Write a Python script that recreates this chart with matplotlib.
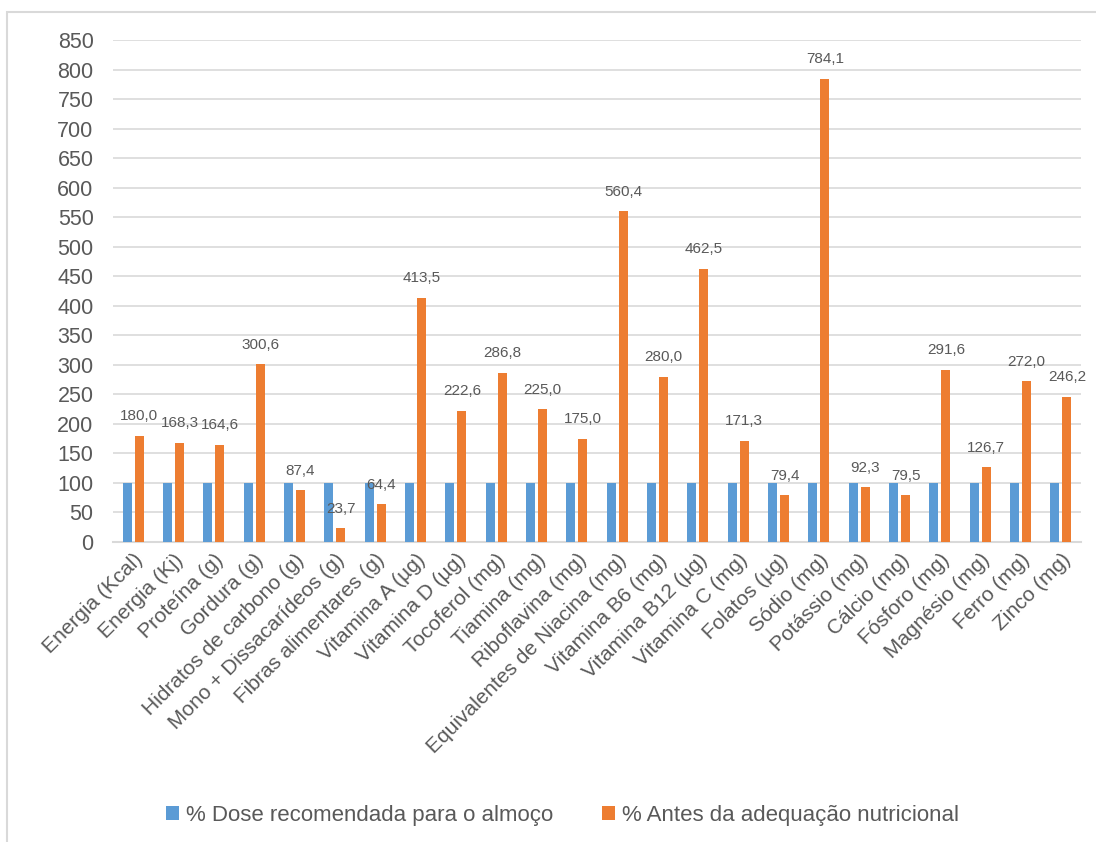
import matplotlib.pyplot as plt
from matplotlib.patches import Rectangle
import numpy as np

plt.rcParams["font.family"] = ["Liberation Sans", "DejaVu Sans"]

CATEGORIES = [
    "Energia (Kcal)", "Energia (Kj)", "Proteína (g)", "Gordura (g)",
    "Hidratos de carbono (g)", "Mono + Dissacarídeos (g)",
    "Fibras alimentares (g)", "Vitamina A (µg)", "Vitamina D (µg)",
    "Tocoferol (mg)", "Tiamina (mg)", "Riboflavina (mg)",
    "Equivalentes de Niacina (mg)", "Vitamina B6 (mg)", "Vitamina B12 (µg)",
    "Vitamina C (mg)", "Folatos (µg)", "Sódio (mg)", "Potássio (mg)",
    "Cálcio (mg)", "Fósforo (mg)", "Magnésio (mg)", "Ferro (mg)",
    "Zinco (mg)",
]
DOSE_RECOMENDADA = [100] * 24
ANTES_ADEQUACAO = [
    180.0, 168.3, 164.6, 300.6, 87.4, 23.7, 64.4, 413.5, 222.6, 286.8,
    225.0, 175.0, 560.4, 280.0, 462.5, 171.3, 79.4, 784.1, 92.3, 79.5,
    291.6, 126.7, 272.0, 246.2,
]
SERIES_NAMES = ["% Dose recomendada para o almoço",
                "% Antes da adequação nutricional"]
Y_TICKS = list(range(0, 851, 50))

BLUE = "#5B9BD5"
ORANGE = "#ED7D31"
GRID = "#D9D9D9"
TEXT = "#595959"

fig = plt.figure(figsize=(10.96, 8.42), dpi=100)
ax = fig.add_axes([0.1031, 0.3563, 0.8832, 0.5962])

x = np.arange(len(CATEGORIES))
w = 0.22
ax.bar(x - 0.15, DOSE_RECOMENDADA, w, color=BLUE, label=SERIES_NAMES[0], zorder=3)
bars = ax.bar(x + 0.15, ANTES_ADEQUACAO, w, color=ORANGE, label=SERIES_NAMES[1], zorder=3)

for rect, v in zip(bars, ANTES_ADEQUACAO):
    ax.annotate(f"{v:.1f}".replace(".", ","),
                (rect.get_x() + rect.get_width() / 2, v),
                xytext=(0, 14), textcoords="offset points",
                ha="center", va="center", fontsize=11, color=TEXT)

ax.set_xlim(-0.5, len(CATEGORIES) - 0.5)
ax.set_ylim(0, 850)
ax.set_yticks(Y_TICKS)
ax.yaxis.grid(True, color=GRID, linewidth=1.2, zorder=0)
ax.set_axisbelow(True)
for side in ["top", "right", "left"]:
    ax.spines[side].set_visible(False)
ax.spines["bottom"].set_color(GRID)
ax.spines["bottom"].set_linewidth(1.5)

ax.tick_params(axis="y", length=0, pad=14, labelsize=15.5, labelcolor=TEXT)
ax.tick_params(axis="x", length=0, pad=6, labelsize=15, labelcolor=TEXT)
ax.set_xticks(x)
ax.set_xticklabels(CATEGORIES, rotation=45, ha="right", va="top",
                   rotation_mode="anchor")

leg = fig.legend(loc="center", bbox_to_anchor=(0.513, 0.032), ncol=2,
                 frameon=False, fontsize=16, handlelength=0.6,
                 handleheight=0.6, handletextpad=0.3, columnspacing=2.2)
for t in leg.get_texts():
    t.set_color(TEXT)

# light outer frame of the chart area
fig.patches.append(Rectangle((7 / 1096, -0.05), 1.2, 1 - 12 / 842 + 0.05,
                             transform=fig.transFigure, fill=False,
                             edgecolor=GRID, linewidth=1.5))

fig.savefig("out.png", dpi=100)
